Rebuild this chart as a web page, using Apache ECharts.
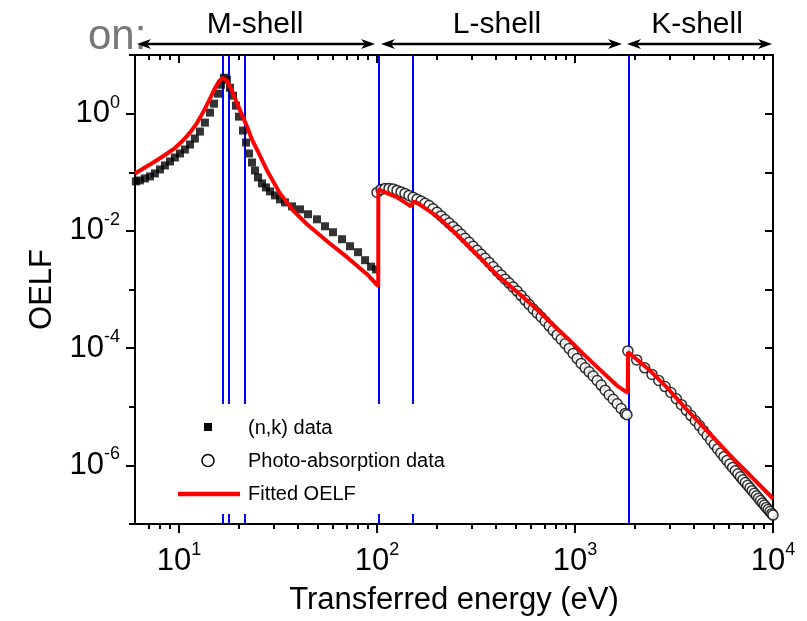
<!DOCTYPE html>
<html><head><meta charset="utf-8">
<script src="https://cdn.jsdelivr.net/npm/echarts@6/dist/echarts.min.js"></script>
<style>html,body{margin:0;padding:0;background:#fff}#c{width:807px;height:621px}</style>
</head><body><div id="c"></div>
<script>
const FONT = 'Liberation Sans, Arial, Helvetica, sans-serif';

// (n,k) data
const nkEnergy = [6.06,6.35,6.73,7.14,7.56,8.02,8.50,9.01,9.54,10.12,10.72,11.37,12.04,12.77,13.53,14.35,15.03,15.75,16.30,16.88,17.48,18.10,18.75,19.41,20.10,21.06,21.81,22.58,23.38,24.21,25.07,26.27,27.51,28.83,30.55,32.38,34.31,37.24,40.88,44.86,49.81,54.67,60.00,66.63,73.13,80.27,87.09,93.37,98.97];
const nkOELF = [0.0698,0.0725,0.0784,0.0848,0.0954,0.1116,0.1305,0.1527,0.1785,0.2088,0.2442,0.2971,0.3757,0.4943,0.7031,1.040,1.479,2.188,3.112,4.095,3.787,2.768,2.023,1.368,0.889,0.514,0.3213,0.2088,0.1468,0.1073,0.0816,0.0645,0.0551,0.0471,0.0403,0.0345,0.0306,0.0262,0.0233,0.0192,0.01575,0.01197,0.00947,0.00720,0.00547,0.00433,0.00316,0.00245,0.00220];

// Photo-absorption data
const paEnergy = [100.1,104.9,109.9,115.1,120.6,126.3,132.3,138.6,145.2,152.2,159.4,167.0,175.0,183.3,192.0,201.2,210.8,220.8,231.3,242.3,253.9,266.0,278.6,291.9,305.8,320.4,335.7,351.6,368.4,385.9,404.3,423.6,443.8,464.9,487.1,510.3,534.6,560.0,586.7,614.7,643.9,674.6,706.7,740.4,775.7,812.6,851.3,891.9,934.4,978.9,1025,1074,1126,1179,1235,1294,1356,1420,1488,1559,1633,1711,1793,1830,
  1850,2050,2250,2450,2650,2850,3050,3250,3450,3650,3850,4050,4250,4450,4650,4850,5050,5250,5450,5650,5850,6050,6250,6450,6650,6850,7050,7250,7450,7650,7850,8050,8250,8450,8650,8850,9050,9250,9450,9650,9850,10000];
const paOELF = [0.04535,0.0510,0.0530,0.0530,0.0520,0.0490,0.0462,0.0436,0.0403,0.0373,0.0347,0.0324,0.0296,0.0270,0.0239,0.0207,0.0180,0.01563,0.01357,0.01179,0.01024,0.00875,0.00748,0.00640,0.00547,0.00468,0.00400,0.00342,0.00290,0.00244,0.00206,0.00176,0.00150,0.001285,0.001098,9.39e-4,7.88e-4,6.60e-4,5.54e-4,4.64e-4,3.97e-4,3.39e-4,2.87e-4,2.40e-4,2.01e-4,1.68e-4,1.42e-4,1.19e-4,9.88e-5,8.13e-5,6.68e-5,5.49e-5,4.61e-5,3.94e-5,3.35e-5,2.81e-5,2.34e-5,1.92e-5,1.59e-5,1.34e-5,1.125e-5,9.32e-6,7.69e-6,7.31e-6,
  8.96e-5,6.30e-5,4.61e-5,3.56e-5,2.80e-5,2.21e-5,1.75e-5,1.37e-5,1.085e-5,8.69e-6,7.06e-6,5.76e-6,4.77e-6,3.91e-6,3.24e-6,2.69e-6,2.26e-6,1.90e-6,1.625e-6,1.406e-6,1.212e-6,1.052e-6,9.18e-7,8.09e-7,7.17e-7,6.37e-7,5.67e-7,5.08e-7,4.57e-7,4.11e-7,3.70e-7,3.34e-7,3.03e-7,2.76e-7,2.51e-7,2.28e-7,2.10e-7,1.92e-7,1.77e-7,1.63e-7,1.50e-7,1.42e-7];

// Fitted OELF
const fitEnergy = [6.0,6.73,7.56,8.50,9.54,10.48,11.37,12.33,13.38,14.35,15.20,15.93,16.69,17.48,18.31,19.41,20.69,22.06,23.38,25.07,27.84,32.38,37.67,44.35,55.96,70.61,89.13,101.5,101.6,107.4,126.4,148.7,152.0,152.3,159.4,201.2,254.0,320.5,404.6,510.5,615.1,749.4,913.1,1100,1341,1634,1848,1852,2399,2923,3522,4292,5230,6301,7679,10000];
const fitOELF = [0.0954,0.1207,0.1527,0.1969,0.2590,0.3474,0.4752,0.6894,1.125,1.799,2.715,3.570,4.095,3.640,2.662,1.664,1.0,0.601,0.3613,0.2258,0.1073,0.0436,0.0224,0.01295,0.00665,0.00356,0.001827,0.00114,0.0510,0.0471,0.0373,0.0262,0.0249,0.0313,0.0303,0.01771,0.00859,0.00392,0.00176,9.03e-4,5.22e-4,2.79e-4,1.491e-4,7.97e-5,4.26e-5,2.276e-5,1.730e-5,8.62e-5,4.10e-5,2.10e-5,1.04e-5,5.14e-6,2.54e-6,1.30e-6,6.71e-7,2.72e-7];

// vertical edge / oscillator lines (eV)
const edgeEnergy = [16.7, 17.9, 21.6, 102.5, 152, 1850];

// axis ticks
const xMin = 6, xMax = 10000;
const xMajorExp = [1, 2, 3, 4];
const xMinorVal = [7,8,9,20,30,40,50,60,70,80,90,200,300,400,500,600,700,800,900,2000,3000,4000,5000,6000,7000,8000,9000];
const yLabelExp = [-6, -4, -2, 0];
const yMinorExp = [-7, -5, -3, -1, 1];
const yAllExp = [-7, -6, -5, -4, -3, -2, -1, 0, 1];

// legend entries
const legendNames = ['(n,k) data', 'Photo-absorption data', 'Fitted OELF'];

const lg = Math.log10;
const pairs = (xs, ys) => xs.map((x, i) => [lg(x), lg(ys[i])]);
const supFmt = v => '{b|10}{s|' + Math.round(v) + '}';
const rich = {
  b: { fontSize: 31, fontFamily: FONT, color: '#000' },
  s: { fontSize: 18, fontFamily: FONT, color: '#000', padding: [0, 0, 22, 0] }
};
const tickStyle = { color: '#000', width: 2 };

function xAx(pos, vals, len, inside, labels, line) {
  return {
    type: 'value', position: pos, min: lg(xMin), max: lg(xMax),
    axisLine: { show: line, onZero: false, lineStyle: { color: '#000', width: 2 } },
    axisTick: { show: true, inside: inside, length: len, customValues: vals, lineStyle: tickStyle },
    axisLabel: labels ? { show: true, customValues: vals, formatter: supFmt, rich: rich, margin: 17, showMinLabel: true, showMaxLabel: true } : { show: false },
    splitLine: { show: false }
  };
}
function yAx(pos, vals, len, inside, labels, line) {
  return {
    type: 'value', position: pos, min: -7, max: 1,
    axisLine: { show: line, onZero: false, lineStyle: { color: '#000', width: 2 } },
    axisTick: { show: true, inside: inside, length: len, customValues: vals, lineStyle: tickStyle },
    axisLabel: labels ? { show: true, customValues: vals, formatter: supFmt, rich: rich, margin: 15 } : { show: false },
    splitLine: { show: false }
  };
}

const xAxes = [
  xAx('bottom', xMajorExp, 9, false, true, true),
  xAx('bottom', xMinorVal.map(lg), 5, false, false, false),
  xAx('top', xMajorExp, 8, true, false, true),
  xAx('top', xMinorVal.map(lg), 5, true, false, false)
];
Object.assign(xAxes[0], { name: 'Transferred energy (eV)', nameLocation: 'middle', nameGap: 61,
  nameTextStyle: { fontSize: 31, fontFamily: FONT, color: '#000' } });
const yAxes = [
  yAx('left', yLabelExp, 9, false, true, true),
  yAx('left', yMinorExp, 6, false, false, false),
  yAx('right', yAllExp, 8, true, false, true)
];
Object.assign(yAxes[0], { name: 'OELF', nameLocation: 'middle', nameGap: 77,
  nameTextStyle: { fontSize: 31, fontFamily: FONT, color: '#000' } });

function arrow(x0, x1, y) {
  return [
    { type: 'line', shape: { x1: x0 + 6, y1: y, x2: x1 - 6, y2: y }, style: { stroke: '#000', lineWidth: 2.5 }, z: 5 },
    { type: 'polygon', shape: { points: [[x0, y], [x0 + 14, y - 5], [x0 + 10, y], [x0 + 14, y + 5]] }, style: { fill: '#000' }, z: 5 },
    { type: 'polygon', shape: { points: [[x1, y], [x1 - 14, y - 5], [x1 - 10, y], [x1 - 14, y + 5]] }, style: { fill: '#000' }, z: 5 }
  ];
}
const txt = (t, x, y, size, color, align, z) => ({ type: 'text', x: x, y: y, z: z || 5,
  style: { text: t, fill: color, font: size + 'px ' + FONT, textAlign: align, textVerticalAlign: 'middle' } });

// legend (key box) drawn as graphic
const legendGraphic = [
  { type: 'rect', shape: { x: 168, y: 404, width: 284, height: 110 }, style: { fill: '#fff' }, z: 3 },
  { type: 'rect', shape: { x: 204, y: 423, width: 8, height: 8 }, style: { fill: '#000' }, z: 10 },
  { type: 'circle', shape: { cx: 208, cy: 460.5, r: 6 }, style: { fill: '#fff', stroke: '#000', lineWidth: 1.5 }, z: 10 },
  { type: 'line', shape: { x1: 178, y1: 494, x2: 240, y2: 494 }, style: { stroke: '#ff0000', lineWidth: 4.5 }, z: 10 },
  txt(legendNames[0], 248, 428, 20, '#000', 'left', 10),
  txt(legendNames[1], 248, 461, 20, '#000', 'left', 10),
  txt(legendNames[2], 248, 494, 20, '#000', 'left', 10)
];

const chart = echarts.init(document.getElementById('c'), null, { renderer: 'canvas' });
chart.setOption({
  animation: false,
  backgroundColor: '#fff',
  grid: { left: 135, right: 34, top: 55, bottom: 94, containLabel: false },
  xAxis: xAxes,
  yAxis: yAxes,
  graphic: [
    ...legendGraphic,
    ...arrow(137, 375, 44), ...arrow(381, 622, 44), ...arrow(627, 772, 44),
    txt('M-shell', 255, 25, 30, '#000', 'center'),
    txt('L-shell', 497, 25, 30, '#000', 'center'),
    txt('K-shell', 697, 25, 30, '#000', 'center'),
    txt('on:', 88, 37, 42, '#777777', 'left', 4)
  ],
  series: [
    { name: 'edges', type: 'line', data: [], z: 1, silent: true,
      markLine: { silent: true, z: 1, symbol: 'none', animation: false, label: { show: false },
        lineStyle: { color: '#0000ff', width: 2, type: 'solid' },
        data: edgeEnergy.map(e => ({ xAxis: lg(e) })) } },
    { name: legendNames[0], type: 'scatter', data: pairs(nkEnergy, nkOELF), symbol: 'rect', symbolSize: 8,
      itemStyle: { color: '#000' }, z: 4 },
    { name: legendNames[1], type: 'scatter', data: pairs(paEnergy, paOELF), symbol: 'circle', symbolSize: 10,
      itemStyle: { color: '#fff', borderColor: '#000', borderWidth: 1.5 }, z: 5 },
    { name: legendNames[2], type: 'line', data: pairs(fitEnergy, fitOELF), symbol: 'none', showSymbol: false,
      lineStyle: { color: '#ff0000', width: 4 }, itemStyle: { color: '#ff0000' }, z: 6 }
  ]
});
</script></body></html>
